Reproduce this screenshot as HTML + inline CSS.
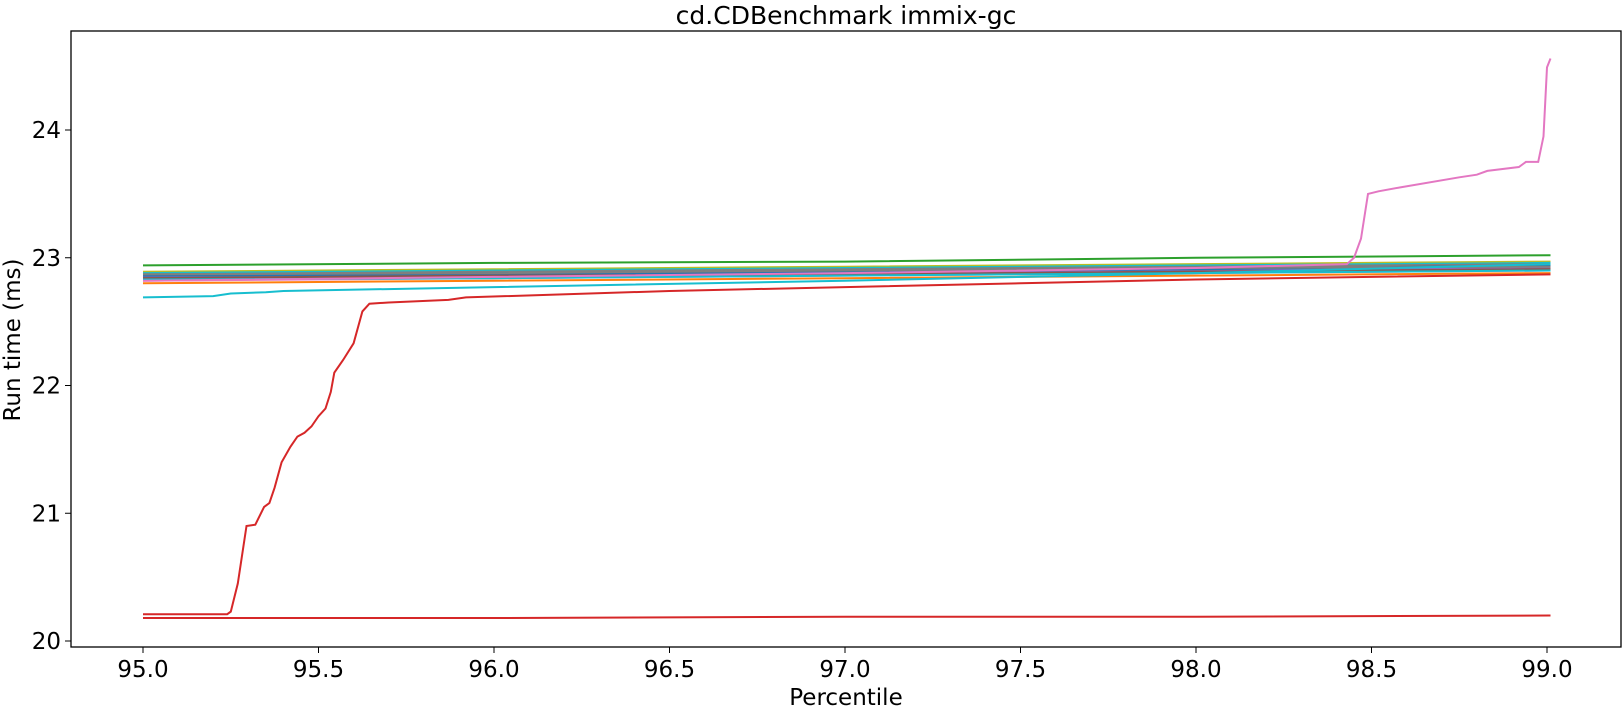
<!DOCTYPE html>
<html><head><meta charset="utf-8">
<style>
body{margin:0;background:#fff;}
svg{display:block;font-family:"DejaVu Sans","Liberation Sans",sans-serif;}
</style></head>
<body>
<svg id="chart" width="1624" height="710" viewBox="0 0 1624 710">
<rect x="0" y="0" width="1624" height="710" fill="#fff"/>
<text x="846" y="24" font-size="25" text-anchor="middle">cd.CDBenchmark immix-gc</text>
<g id="plot"></g>
<g id="axes"></g>
<text x="846" y="705" font-size="23" text-anchor="middle">Percentile</text>
<text transform="translate(20,340) rotate(-90)" font-size="23" text-anchor="middle">Run time (ms)</text>
</svg>
<script>
const xTicks = [95.0, 95.5, 96.0, 96.5, 97.0, 97.5, 98.0, 98.5, 99.0];
const yTicks = [20, 21, 22, 23, 24];
const xGrid = [95, 96, 97, 98, 99.01];
const flatColors = ['#2ca02c','#bcbd22','#17becf','#7f7f7f','#1f77b4','#bcbd22','#9467bd','#8c564b','#e377c2','#ff7f0e','#d62728','#1f77b4','#7f7f7f','#8c564b','#17becf'];
const flatValues = [
 [22.94,22.96,22.97,23.00,23.02],
 [22.89,22.91,22.93,22.95,22.97],
 [22.88,22.90,22.92,22.94,22.96],
 [22.87,22.89,22.91,22.93,22.95],
 [22.86,22.88,22.89,22.91,22.93],
 [22.85,22.87,22.88,22.90,22.92],
 [22.85,22.86,22.88,22.90,22.92],
 [22.84,22.85,22.87,22.89,22.91],
 [22.82,22.84,22.86,22.88,22.90],
 [22.80,22.82,22.84,22.86,22.88],
 [20.18,20.18,20.19,20.19,20.20],
 [22.86,22.87,22.89,22.91,22.94],
 [22.87,22.88,22.90,22.92,22.93],
 [22.84,22.86,22.87,22.89,22.91],
 [22.83,22.84,22.86,22.88,22.90]
];
const cyanX = [95,95.2,95.25,95.35,95.4,96,97,98,99.01];
const cyanY = [22.69,22.70,22.72,22.73,22.74,22.77,22.82,22.88,22.95];
const redX = [95,95.24,95.25,95.27,95.295,95.32,95.345,95.36,95.375,95.395,95.42,95.44,95.46,95.48,95.5,95.52,95.535,95.545,95.57,95.6,95.625,95.645,95.7,95.87,95.92,96.5,97,97.5,98,98.5,99.01];
const redY = [20.21,20.21,20.23,20.45,20.9,20.91,21.05,21.08,21.2,21.4,21.52,21.6,21.63,21.68,21.76,21.82,21.95,22.1,22.2,22.33,22.58,22.64,22.65,22.67,22.69,22.74,22.77,22.8,22.83,22.85,22.87];
const pinkX = [95,96,97,98,98.43,98.45,98.47,98.49,98.52,98.58,98.75,98.8,98.83,98.92,98.94,98.975,98.99,99.0,99.01];
const pinkY = [22.82,22.85,22.88,22.92,22.95,23.0,23.15,23.5,23.52,23.55,23.63,23.65,23.68,23.71,23.75,23.75,23.95,24.49,24.56];

const L=71,R=1621,T=31,B=647;
const sx=v=>143+(v-95)*351;
const sy=v=>641-(v-20)*127.75;
const NS='http://www.w3.org/2000/svg';
const plot=document.getElementById('plot'), axes=document.getElementById('axes');
function line(xs,ys,color,name){
  const p=document.createElementNS(NS,'polyline');
  p.setAttribute('points',xs.map((x,i)=>sx(x).toFixed(1)+','+sy(ys[i]).toFixed(1)).join(' '));
  p.setAttribute('fill','none');p.setAttribute('stroke',color);p.setAttribute('stroke-width','2');
  
  
  plot.appendChild(p);
}
flatValues.forEach((vals,i)=>line(xGrid,vals,flatColors[i],'series-line-'+(i+1)));
line(cyanX,cyanY,'#17becf','series-line-cyan');
line(redX,redY,'#d62728','series-line-red-step');
line(pinkX,pinkY,'#e377c2','series-line-pink-spike');
const frame=document.createElementNS(NS,'rect');
frame.setAttribute('x',L);frame.setAttribute('y',T);frame.setAttribute('width',R-L);frame.setAttribute('height',B-T);
frame.setAttribute('fill','none');frame.setAttribute('stroke','#000');frame.setAttribute('stroke-width','1.3');


axes.appendChild(frame);
xTicks.forEach(v=>{
  const x=sx(v);
  const t=document.createElementNS(NS,'line');
  t.setAttribute('x1',x);t.setAttribute('x2',x);t.setAttribute('y1',B);t.setAttribute('y2',B+6);t.setAttribute('stroke','#000');
  
  
  axes.appendChild(t);
  const s=document.createElementNS(NS,'text');
  s.setAttribute('x',x);s.setAttribute('y',677);s.setAttribute('font-size','23');s.setAttribute('text-anchor','middle');
  s.textContent=v.toFixed(1);
  
  
  axes.appendChild(s);
});
yTicks.forEach(v=>{
  const y=sy(v);
  const t=document.createElementNS(NS,'line');
  t.setAttribute('x1',L-6);t.setAttribute('x2',L);t.setAttribute('y1',y);t.setAttribute('y2',y);t.setAttribute('stroke','#000');
  
  
  axes.appendChild(t);
  const s=document.createElementNS(NS,'text');
  s.setAttribute('x',L-10);s.setAttribute('y',y+8);s.setAttribute('font-size','23');s.setAttribute('text-anchor','end');
  s.textContent=v;
  
  
  axes.appendChild(s);
});
</script>
</body></html>
